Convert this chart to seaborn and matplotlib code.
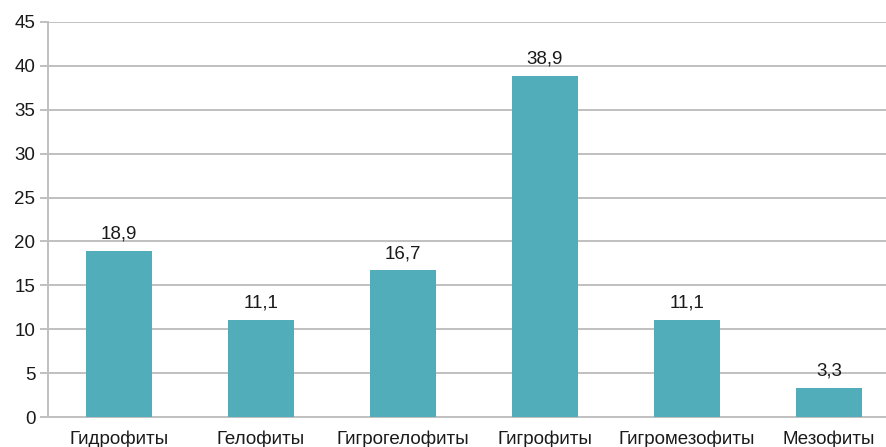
import matplotlib
matplotlib.use("Agg")
import matplotlib.pyplot as plt
import seaborn as sns
import pandas as pd
import numpy as np

categories = ["Гидрофиты", "Гелофиты", "Гигрогелофиты", "Гигрофиты", "Гигромезофиты", "Мезофиты"]
values = [18.9, 11.1, 16.7, 38.9, 11.1, 3.3]
value_labels = ["18,9", "11,1", "16,7", "38,9", "11,1", "3,3"]
y_ticks = [0, 5, 10, 15, 20, 25, 30, 35, 40, 45]

sns.set_theme(style="white")
plt.rcParams["font.family"] = ["Liberation Sans", "DejaVu Sans"]

bar_color = "#52ADBB"
grid_color = "#C0C0C0"
text_color = "#1A1A1A"
fs = 13.5

df = pd.DataFrame({"category": categories, "value": values})

W, H = 887, 447
fig = plt.figure(figsize=(W / 100, H / 100), dpi=100)
left, right, bottom, top = 48, 900, 447 - 417, 447 - 22
ax = fig.add_axes([left / W, bottom / H, (right - left) / W, (top - bottom) / H])

sns.barplot(data=df, x="category", y="value", color=bar_color, width=0.465,
            saturation=1, linewidth=0, ax=ax, zorder=3)

ax.set_xlim(-0.5, len(categories) - 0.5)
ax.set_ylim(0, 45)
ax.set_yticks(y_ticks)
ax.set_yticklabels([str(t) for t in y_ticks], fontsize=fs, color=text_color)
ax.set_xlabel("")
ax.set_ylabel("")

# horizontal gridlines
for t in y_ticks[1:]:
    ax.axhline(t, color=grid_color, lw=1.4, zorder=1)

# category tick labels without tick marks, boundary ticks as minor ticks
ax.set_xticks(range(len(categories)))
ax.set_xticklabels(categories, fontsize=fs, color=text_color)
ax.tick_params(axis="x", which="major", length=0, pad=10)
ax.set_xticks(np.arange(-0.5, len(categories), 1.0), minor=True)
ax.tick_params(axis="x", which="minor", length=5, width=1.4, color=grid_color, direction="out")
ax.tick_params(axis="y", which="major", length=6, width=1.4, color=grid_color, direction="out", pad=3, left=True)

for side in ["top", "right"]:
    ax.spines[side].set_visible(False)
for side in ["left", "bottom"]:
    ax.spines[side].set_color(grid_color)
    ax.spines[side].set_linewidth(1.4)

for i, (v, lab) in enumerate(zip(values, value_labels)):
    ax.annotate(lab, (i, v), xytext=(0, 6), textcoords="offset points",
                ha="center", va="bottom", fontsize=fs, color=text_color, zorder=4)

fig.savefig("out.png", dpi=100)
